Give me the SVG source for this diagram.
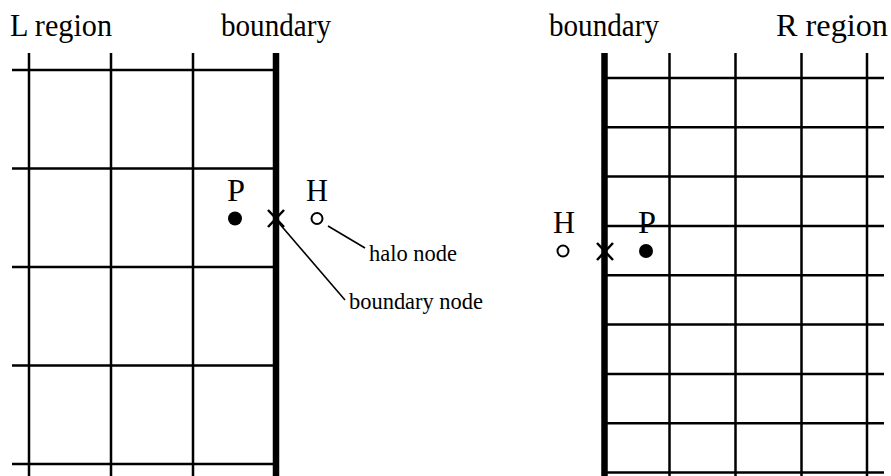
<svg xmlns="http://www.w3.org/2000/svg" width="891" height="476" viewBox="0 0 891 476">
  <style>
    .grid { stroke: #000; stroke-width: 2.5; fill: none; }
    .bnd { stroke: #000; stroke-width: 6.5; fill: none; }
    .lead { stroke: #000; stroke-width: 1.6; fill: none; }
    .xmark { stroke: #000; stroke-width: 2.5; fill: none; }
    .title { font-family: "Liberation Serif", "Times New Roman", serif; font-size: 31px; fill: #000; }
    .lbl { font-family: "Liberation Serif", "Times New Roman", serif; font-size: 24px; fill: #000; }
    .pt { fill: #000; }
    .halo { fill: #fff; stroke: #000; stroke-width: 2; }
  </style>

  <rect width="891" height="476" fill="#fff"/>

  <!-- headings -->
  <g id="headings">
    <text class="title" x="10" y="36" textLength="102" lengthAdjust="spacingAndGlyphs">L region</text>
    <text class="title" x="221" y="36" textLength="110" lengthAdjust="spacingAndGlyphs">boundary</text>
    <text class="title" x="549" y="36" textLength="110" lengthAdjust="spacingAndGlyphs">boundary</text>
    <text class="title" x="776" y="36" textLength="112" lengthAdjust="spacingAndGlyphs">R region</text>
  </g>

  <!-- left region: coarse grid -->
  <g id="left-grid">
    <path class="grid" d="M29,53V476 M111,53V476 M193,53V476"/>
    <path class="grid" d="M12,70H273 M12,168.5H273 M12,267H273 M12,365.5H273 M12,464H273"/>
    <path class="bnd" d="M276,53V476"/>
  </g>

  <!-- right region: fine grid -->
  <g id="right-grid">
    <path class="grid" d="M669.5,53V476 M735.5,53V476 M801.5,53V476 M867,53V476"/>
    <path class="grid" d="M607,78H884 M607,127.3H884 M607,176.6H884 M607,226H884 M607,275.2H884 M607,324.6H884 M607,373.9H884 M607,423.2H884 M607,472.5H884"/>
    <path class="bnd" d="M604.5,53V476"/>
  </g>

  <!-- left side nodes -->
  <g id="left-P">
    <text class="title" x="227" y="201" textLength="18" lengthAdjust="spacingAndGlyphs">P</text>
    <circle class="pt" cx="235" cy="218.5" r="7"/>
  </g>
  <g id="left-boundary-node">
    <path class="xmark" d="M268,210L284,227 M284,210L268,227"/>
  </g>
  <g id="left-H">
    <text class="title" x="306" y="201" textLength="22" lengthAdjust="spacingAndGlyphs">H</text>
    <circle class="halo" cx="317" cy="218.5" r="5.5"/>
  </g>

  <!-- right side nodes -->
  <g id="right-H">
    <text class="title" x="553" y="233" textLength="22" lengthAdjust="spacingAndGlyphs">H</text>
    <circle class="halo" cx="563" cy="251" r="5.5"/>
  </g>
  <g id="right-boundary-node">
    <path class="xmark" d="M597,243L613,260 M613,243L597,260"/>
  </g>
  <g id="right-P">
    <text class="title" x="638" y="233" textLength="18" lengthAdjust="spacingAndGlyphs">P</text>
    <circle class="pt" cx="646" cy="251" r="7"/>
  </g>

  <!-- callouts -->
  <g id="connectors">
    <path class="lead" d="M328,226L365,248"/>
    <path class="lead" d="M278,222L345,300"/>
  </g>
  <g id="callout-labels">
    <text class="lbl" x="369" y="261" textLength="88" lengthAdjust="spacingAndGlyphs">halo node</text>
    <text class="lbl" x="349" y="309" textLength="134" lengthAdjust="spacingAndGlyphs">boundary node</text>
  </g>
</svg>
